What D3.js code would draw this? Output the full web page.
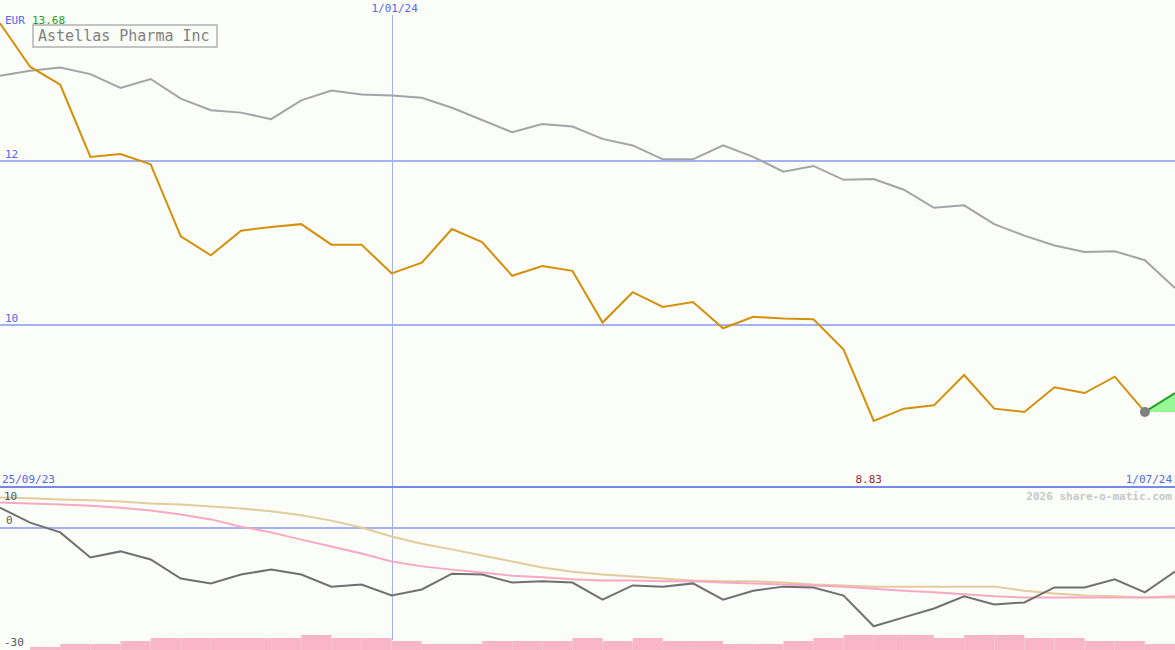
<!DOCTYPE html>
<html>
<head>
<meta charset="utf-8">
<script src="https://cdn.jsdelivr.net/npm/d3@7"></script>
<style>
html,body{margin:0;padding:0;background:#fbfdf9;}
svg{display:block;}
text{font-family:"DejaVu Sans Mono","Liberation Mono",monospace;}
</style>
</head>
<body>
<svg id="chart" width="1175" height="650"></svg>
<script>
// ---- data (weekly index positions) ----
const title = "Astellas Pharma Inc";
const currency = "EUR";
const startLabel = "25/09/23";
const endLabel = "1/07/24";
const yearMarkLabel = "1/01/24";
const yearMarkIndex = 13;
const maxLabel = "13.68";
const minLabel = "8.83";
const minIndex = 29;
const priceTicks = [12, 10];
const lowerTicks = [10, 0, -30];
const lowerGridTicks = [0];
const watermark = "2026 share-o-matic.com";

// share price (orange), EUR
const price = [13.68, 13.15, 12.93, 12.05, 12.085, 11.96, 11.08, 10.85, 11.15, 11.195,
  11.23, 10.98, 10.98, 10.63, 10.76, 11.17, 11.01, 10.60, 10.72, 10.66,
  10.03, 10.40, 10.22, 10.28, 9.96, 10.10, 10.08, 10.07, 9.70, 8.83,
  8.98, 9.02, 9.39, 8.98, 8.94, 9.24, 9.17, 9.37, 8.94];
// projection wedge end value
const projection = 9.17;

// comparison index (gray), rescaled to EUR
const index = [13.04, 13.10, 13.14, 13.06, 12.89, 13.00, 12.76, 12.62, 12.59, 12.51,
  12.74, 12.86, 12.81, 12.80, 12.77, 12.65, 12.50, 12.35, 12.45, 12.42,
  12.27, 12.19, 12.02, 12.02, 12.19, 12.05, 11.87, 11.94, 11.77, 11.78,
  11.65, 11.43, 11.46, 11.23, 11.09, 10.97, 10.89, 10.90, 10.79, 10.45];

// lower panel: relative performance (dark gray), %
const relative = [4.9, 1.2, -1.2, -7.4, -5.9, -7.9, -12.6, -13.8, -11.6, -10.4,
  -11.6, -14.6, -14.1, -16.8, -15.3, -11.4, -11.6, -13.6, -13.3, -13.6,
  -17.8, -14.3, -14.6, -13.8, -17.8, -15.6, -14.6, -14.8, -16.8, -24.4,
  -22.2, -20.0, -17.0, -19.0, -18.5, -14.8, -14.8, -12.8, -16.0, -10.9];

// lower panel: moving averages (pink, tan)
const avgShort = [6.2, 5.9, 5.7, 5.4, 4.9, 4.2, 3.2, 2.0, 0.2, -1.2,
  -3.0, -4.7, -6.4, -8.4, -9.6, -10.4, -11.1, -11.9, -12.3, -12.8,
  -13.1, -13.1, -13.3, -13.3, -13.6, -13.8, -14.1, -14.3, -14.6, -15.1,
  -15.6, -16.0, -16.5, -17.0, -17.3, -17.3, -17.3, -17.3, -17.3, -17.0];
const avgLong = [7.4, 7.2, 6.9, 6.7, 6.4, 5.9, 5.7, 5.2, 4.7, 4.0,
  3.0, 1.7, 0.0, -2.2, -4.0, -5.4, -6.9, -8.4, -9.9, -10.9,
  -11.6, -12.1, -12.6, -13.1, -13.3, -13.3, -13.6, -14.1, -14.3, -14.6,
  -14.6, -14.6, -14.6, -14.6, -15.6, -16.3, -16.8, -17.0, -17.3, -17.3];

// weekly volume (relative units)
const volume = [0, 1, 2, 2, 3, 4, 4, 4, 4, 4, 5, 4, 4, 3, 2, 2, 3, 3, 3, 4,
  3, 4, 3, 3, 2, 2, 3, 4, 5, 5, 5, 4, 5, 5, 4, 4, 3, 3, 2];

// ---- layout ----
const W = 1175, H = 650;
const mainBottom = 487;
const svg = d3.select("#chart");

const x = d3.scaleLinear().domain([0, 39]).range([0, W]);
const y = d3.scaleLinear().domain([10, 12]).range([325, 161]);
const y2 = d3.scaleLinear().domain([-30, 10]).range([649, 487]);
const yv = d3.scaleLinear().domain([0, 5]).range([650, 635]);

const blue = "#a4b2f4";
const textBlue = "#5566ee";

// background
svg.append("rect").attr("width", W).attr("height", H).attr("fill", "#fbfdf9");

// volume bars
svg.append("g").selectAll("rect").data(volume).join("rect")
  .attr("x", (d, i) => x(i))
  .attr("width", (d, i) => x(i + 1) - x(i))
  .attr("y", d => yv(d))
  .attr("height", d => yv(0) - yv(d))
  .attr("fill", "#f9b6c9");

// main grid lines
svg.append("g").selectAll("line").data(priceTicks).join("line")
  .attr("x1", 0).attr("x2", W)
  .attr("y1", d => Math.round(y(d))).attr("y2", d => Math.round(y(d)))
  .attr("stroke", blue).attr("stroke-width", 2);
svg.append("g").selectAll("text").data(priceTicks).join("text")
  .attr("x", 5).attr("y", d => y(d) - 3)
  .attr("font-size", 11).attr("fill", textBlue)
  .text(d => d);

// lower grid
svg.append("g").selectAll("line").data(lowerGridTicks).join("line")
  .attr("x1", 0).attr("x2", W)
  .attr("y1", d => Math.round(y2(d))).attr("y2", d => Math.round(y2(d)))
  .attr("stroke", blue).attr("stroke-width", 2);

// year mark vertical
svg.append("line")
  .attr("x1", Math.round(x(yearMarkIndex)) + 0.5).attr("x2", Math.round(x(yearMarkIndex)) + 0.5)
  .attr("y1", 15).attr("y2", 640)
  .attr("stroke", blue).attr("stroke-width", 1);
svg.append("text").attr("x", x(yearMarkIndex) + 3).attr("y", 12)
  .attr("text-anchor", "middle").attr("font-size", 11).attr("fill", textBlue)
  .text(yearMarkLabel);

// divider
svg.append("line").attr("x1", 0).attr("x2", W).attr("y1", mainBottom).attr("y2", mainBottom)
  .attr("stroke", "#7888e8").attr("stroke-width", 2);

// lower panel lines
const lineL = d3.line().x((d, i) => x(i)).y(d => y2(d));
svg.append("path").datum(avgLong).attr("d", lineL)
  .attr("fill", "none").attr("stroke", "#e2cc9c").attr("stroke-width", 2);
svg.append("path").datum(avgShort).attr("d", lineL)
  .attr("fill", "none").attr("stroke", "#f8a8c4").attr("stroke-width", 2);
svg.append("path").datum(relative).attr("d", lineL)
  .attr("fill", "none").attr("stroke", "#707070").attr("stroke-width", 2);

// lower labels
svg.append("g").selectAll("text").data(lowerTicks).join("text")
  .attr("x", d => d === 0 ? 6 : 4)
  .attr("y", d => d === 10 ? 500 : (d === -30 ? 646 : y2(d) - 4))
  .attr("font-size", 11).attr("fill", "#555555")
  .text(d => d);

// main lines
const lineM = d3.line().x((d, i) => x(i)).y(d => y(d));
svg.append("path").datum(index).attr("d", lineM)
  .attr("fill", "none").attr("stroke", "#a4a4a4").attr("stroke-width", 2);

// projection wedge
const last = price.length - 1;
svg.append("path")
  .attr("d", `M${x(last)},${y(price[last])}L${x(last + 1)},${y(projection)}L${x(last + 1)},${y(price[last])}Z`)
  .attr("fill", "#98f898");
svg.append("line")
  .attr("x1", x(last)).attr("y1", y(price[last]))
  .attr("x2", x(last + 1)).attr("y2", y(projection))
  .attr("stroke", "#22a022").attr("stroke-width", 2);

svg.append("path").datum(price).attr("d", lineM)
  .attr("fill", "none").attr("stroke", "#d4900a").attr("stroke-width", 2);

svg.append("circle").attr("cx", x(last)).attr("cy", y(price[last]))
  .attr("r", 5).attr("fill", "#808080");

// header labels
svg.append("text").attr("x", 5).attr("y", 24).attr("font-size", 11)
  .attr("fill", textBlue).text(currency);
svg.append("text").attr("x", 32).attr("y", 24).attr("font-size", 11)
  .attr("fill", "#22a022").text(maxLabel);

// title box
svg.append("rect").attr("x", 33).attr("y", 25).attr("width", 184).attr("height", 22)
  .attr("fill", "#fbfdf9").attr("stroke", "#c4c4c4").attr("stroke-width", 2);
svg.append("text").attr("x", 38).attr("y", 41).attr("font-size", 15)
  .attr("fill", "#808080").text(title);

// bottom of main panel labels
svg.append("text").attr("x", 2).attr("y", 483).attr("font-size", 11)
  .attr("fill", textBlue).text(startLabel);
svg.append("text").attr("x", W - 3).attr("y", 483).attr("font-size", 11)
  .attr("text-anchor", "end").attr("fill", textBlue).text(endLabel);
svg.append("text").attr("x", x(minIndex) - 5).attr("y", 483).attr("font-size", 11)
  .attr("text-anchor", "middle").attr("fill", "#a02828").text(minLabel);
svg.append("text").attr("x", W - 3).attr("y", 500).attr("font-size", 11)
  .attr("font-weight", "bold").attr("text-anchor", "end").attr("fill", "#c8c8c8").text(watermark);
</script>
</body>
</html>
